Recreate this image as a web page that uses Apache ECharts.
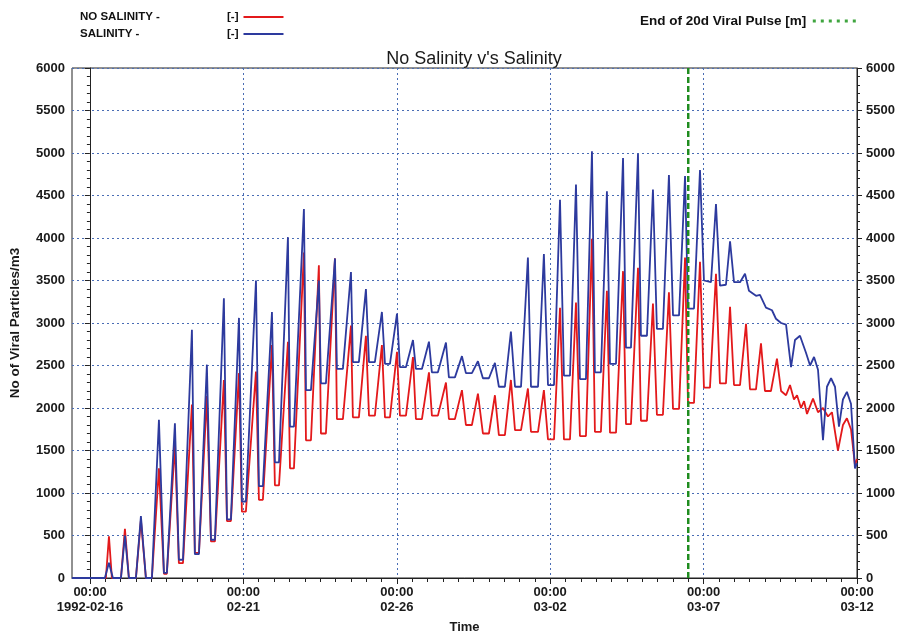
<!DOCTYPE html>
<html>
<head>
<meta charset="utf-8">
<script src="https://cdn.jsdelivr.net/npm/echarts@6/dist/echarts.min.js"></script>
<style>
  html, body { margin: 0; padding: 0; background: #ffffff; }
  #chart { width: 906px; height: 633px; }
</style>
</head>
<body>
<div id="chart"></div>
<script>
// Time is measured in hours from 1992-02-16 00:00.
const axisStartHour = -14;
const axisEndHour = 600;
const dateTickHours = [0, 120, 240, 360, 480, 600];
const dateTickLabels = ['1992-02-16', '02-21', '02-26', '03-02', '03-07', '03-12'];
const pulseEndHour = 468;

// Viral particle concentration without salinity effects [hour, particles/m3]
const noSalinity = [
  [-14,0],[12.5,0],[14.9,490],[17.2,0],[24.3,0],[27.4,580],[30.5,0],[36,0],[39.9,680],[43.8,0],
  [48.5,0],[54,1290],[57.9,50],[60.2,50],[66.5,1570],[69.6,175],[72.8,175],[79.8,2040],[82.1,295],[85.3,295],
  [91.5,2140],[94.7,430],[97.8,430],[104.8,2330],[107.2,670],[110.3,670],[116.6,2410],[118.9,780],[122,780],
  [129.9,2430],[132.2,920],[135.3,920],[142.4,2740],[144.7,1090],[147.9,1090],[154.9,2780],[156.5,1290],[159.6,1290],
  [167.4,3830],[169,1620],[172.9,1620],[179.1,3680],[180.7,1700],[184.6,1700],[191.7,3760],[193.2,1870],[197.9,1870],
  [204.2,2970],[205.7,1890],[210.4,1890],[215.9,2850],[218.3,1910],[222.9,1910],[228.4,2740],[230.8,1890],[234.7,1890],
  [240.2,2660],[242.5,1910],[247.2,1910],[252.7,2600],[255,1870],[259.7,1870],[265.2,2420],[267.5,1910],[272.2,1910],
  [278.5,2300],[280.8,1870],[285.5,1870],[291,2210],[294.1,1800],[298.8,1800],[303.5,2170],[307.4,1700],[312.1,1700],
  [316.8,2150],[319.9,1680],[324.6,1680],[329.3,2330],[332.5,1740],[337.2,1740],[342.6,2230],[345,1720],[350.5,1720],
  [355.1,2210],[358.3,1630],[363,1630],[367.7,3180],[370.8,1630],[375.5,1630],[380.2,3240],[383.3,1670],[388,1670],
  [392.7,3990],[395,1720],[399.7,1720],[404.4,3380],[406.8,1710],[411.5,1710],[417,3610],[419.3,1810],[423.2,1810],
  [428.7,3650],[431,1850],[435.7,1850],[440.4,3230],[443.5,1920],[448.2,1920],[452.9,3360],[456.1,1990],[460.8,1990],
  [465.5,3770],[467.8,2060],[472.5,2060],[477.2,3720],[480.3,2240],[485,2240],[489.7,3580],[492.8,2290],[497.5,2290],
  [500.7,3190],[503.8,2270],[508.5,2270],[513.2,2990],[516.3,2220],[521,2220],[524.9,2760],[528,2200],[532.7,2200],
  [537.4,2580],[540.6,2200],[544.5,2150],[547.6,2270],[550.7,2100],[553.1,2150],[556.2,2000],[558.6,2080],[560.9,1930],
  [565.6,2110],[569.5,1950],[573.4,2000],[577.3,1900],[580.4,1950],[585.1,1500],[589,1800],[592.1,1880],[595.3,1750],
  [598.4,1330],[600,1400]
];

// Viral particle concentration with salinity effects [hour, particles/m3]
const salinity = [
  [-14,0],[11.7,0],[14.9,180],[18,0],[24.3,0],[27.4,500],[30.5,0],[36,0],[39.9,730],[43.8,0],
  [48.5,0],[54,1860],[57.9,60],[60.2,60],[66.5,1820],[69.6,215],[72.8,215],[79.8,2920],[82.1,280],[85.3,280],
  [91.5,2510],[94.7,450],[97.8,450],[104.8,3290],[107.2,690],[110.3,690],[116.6,3060],[118.9,900],[122,900],
  [129.9,3500],[132.2,1080],[135.3,1080],[142.4,3130],[144.7,1360],[147.9,1360],[154.9,4010],[156.5,1780],[159.6,1780],
  [167.4,4340],[169,2210],[172.9,2210],[179.1,3500],[180.7,2290],[184.6,2290],[191.7,3760],[193.2,2460],[197.9,2460],
  [204.2,3600],[205.7,2540],[210.4,2540],[215.9,3400],[218.3,2540],[222.9,2540],[228.4,3130],[230.8,2520],[234.7,2520],
  [240.2,3110],[242.5,2480],[247.2,2480],[252.7,2800],[255,2460],[259.7,2460],[265.2,2780],[267.5,2420],[272.2,2420],
  [278.5,2770],[280.8,2360],[285.5,2360],[291,2610],[294.1,2410],[298.8,2410],[303.5,2550],[307.4,2350],[312.1,2350],
  [316.8,2530],[319.9,2250],[324.6,2250],[329.3,2900],[332.5,2250],[337.2,2250],[342.6,3770],[345,2250],[350.5,2250],
  [355.1,3810],[358.3,2270],[363,2270],[367.7,4450],[370.8,2380],[375.5,2380],[380.2,4630],[383.3,2340],[388,2340],
  [392.7,5020],[395,2420],[399.7,2420],[404.4,4550],[406.8,2520],[411.5,2520],[417,4940],[419.3,2710],[423.2,2710],
  [428.7,4990],[431,2850],[435.7,2850],[440.4,4570],[443.5,2930],[448.2,2930],[452.9,4740],[456.1,3090],[460.8,3090],
  [465.5,4730],[467.8,3170],[472.5,3170],[477.2,4800],[480.3,3500],[485.8,3480],[489.7,4400],[492.8,3440],[497.5,3450],
  [500.7,3960],[503.8,3480],[508.5,3480],[512.4,3580],[515.5,3380],[521,3320],[524.1,3330],[528.8,3180],[533.5,3150],
  [536.6,3050],[540.6,3000],[544.5,2980],[548.4,2480],[551.5,2800],[555.4,2850],[560.1,2650],[563.3,2500],[566.4,2600],
  [569.5,2450],[573.4,1620],[576.5,2250],[579.7,2350],[582.8,2250],[585.9,1780],[589,2100],[592.1,2190],[595.3,2050],
  [598.4,1290],[600,1350]
];

// Vertical marker at the end of the 20 day viral pulse
const pulseMarker = [[pulseEndHour, 0], [pulseEndHour, 6000]];

const FONT = '"Liberation Sans", Arial, sans-serif';
const RED = '#e3191b';
const BLUE = '#2d3a9e';
const GREEN = '#1f8c1f';
const GRID_DOT = { type: [2, 3], color: '#4a6db5', width: 1 };

const valueAxisBase = {
  min: 0, max: 6000, interval: 500,
  axisLine: { show: true, lineStyle: { color: '#222', width: 1 } },
  axisTick: { show: true, inside: false, length: 5, lineStyle: { color: '#222' } },
  minorTick: { show: true, splitNumber: 5, length: 3, lineStyle: { color: '#222' } },
  axisLabel: { color: '#1a1a1a', fontFamily: FONT, fontWeight: 'bold', fontSize: 13, formatter: v => String(v) }
};

const chart = echarts.init(document.getElementById('chart'), null, { renderer: 'canvas' });
chart.setOption({
  animation: false,
  backgroundColor: '#ffffff',
  title: {
    text: "No Salinity v's Salinity",
    left: 469, top: 45, textAlign: 'center',
    textStyle: { fontFamily: FONT, fontSize: 18, fontWeight: 'normal', color: '#1a1a1a' }
  },
  legend: [
    {
      data: ['NO SALINITY -', 'SALINITY -'],
      orient: 'vertical', left: 80, top: 11, align: 'right', padding: 0,
      itemWidth: 40, itemHeight: 2, itemGap: 5, icon: 'rect', selectedMode: false,
      formatter: name => '{n|' + name + '}{u|[-]}',
      textStyle: {
        fontFamily: FONT, fontWeight: 'bold', fontSize: 11.5, color: '#111',
        rich: {
          n: { width: 147, align: 'left', fontFamily: FONT, fontWeight: 'bold', fontSize: 11.5, color: '#111' },
          u: { align: 'left', fontFamily: FONT, fontWeight: 'bold', fontSize: 11.5, color: '#111' }
        }
      }
    },
    {
      data: ['End of 20d Viral Pulse [m]'],
      left: 640, top: 14, align: 'right', padding: 0,
      itemWidth: 46, itemHeight: 3, selectedMode: false,
      icon: 'path://M0 0h3v3h-3zM8 0h3v3h-3zM16 0h3v3h-3zM24 0h3v3h-3zM32 0h3v3h-3zM40 0h3v3h-3z',
      textStyle: { fontFamily: FONT, fontWeight: 'bold', fontSize: 13.5, color: '#111' }
    }
  ],
  grid: [
    { left: 72, right: 49, top: 68, bottom: 55, outerBoundsMode: 'none', containLabel: false,
      show: true, borderColor: '#222', borderWidth: 1, backgroundColor: 'transparent' },
    { left: 90, right: 49, top: 68, bottom: 55, outerBoundsMode: 'none', containLabel: false }
  ],
  xAxis: [
    {
      gridIndex: 0, type: 'value', min: axisStartHour, max: axisEndHour,
      axisLine: { show: true, lineStyle: { color: '#222', width: 1 } },
      axisTick: { show: false }, axisLabel: { show: false }, splitLine: { show: false },
      name: 'Time', nameLocation: 'middle', nameGap: 43,
      nameTextStyle: { fontFamily: FONT, fontWeight: 'bold', fontSize: 13, color: '#1a1a1a' }
    },
    {
      gridIndex: 1, type: 'value', min: dateTickHours[0], max: dateTickHours[dateTickHours.length - 1],
      interval: dateTickHours[1] - dateTickHours[0],
      axisLine: { show: true, lineStyle: { color: '#222', width: 1 } },
      axisTick: { show: true, inside: false, length: 6, lineStyle: { color: '#222' } },
      minorTick: { show: true, splitNumber: 10, length: 4, lineStyle: { color: '#222' } },
      axisLabel: {
        margin: 7, color: '#1a1a1a', fontFamily: FONT, fontWeight: 'bold', fontSize: 13, lineHeight: 15,
        showMinLabel: true, showMaxLabel: true,
        formatter: v => '00:00\n' + dateTickLabels[dateTickHours.indexOf(v)]
      },
      splitLine: { show: true, lineStyle: GRID_DOT }
    }
  ],
  yAxis: [
    Object.assign({}, valueAxisBase, {
      gridIndex: 0, type: 'value', position: 'left',
      axisLabel: Object.assign({}, valueAxisBase.axisLabel, { margin: 7 }),
      splitLine: { show: true, lineStyle: GRID_DOT },
      name: 'No of Viral Particles/m3', nameLocation: 'middle', nameRotate: 90, nameGap: 50,
      nameTextStyle: { fontFamily: FONT, fontWeight: 'bold', fontSize: 13.5, color: '#1a1a1a' }
    }),
    Object.assign({}, valueAxisBase, {
      gridIndex: 0, type: 'value', position: 'right',
      axisLabel: Object.assign({}, valueAxisBase.axisLabel, { margin: 9 }),
      splitLine: { show: false }
    }),
    { gridIndex: 1, type: 'value', min: 0, max: 6000, show: false }
  ],
  series: [
    {
      name: 'NO SALINITY -', type: 'line', xAxisIndex: 0, yAxisIndex: 0,
      data: noSalinity, symbol: 'none', color: RED,
      lineStyle: { color: RED, width: 1.8 }, z: 3
    },
    {
      name: 'SALINITY -', type: 'line', xAxisIndex: 0, yAxisIndex: 0,
      data: salinity, symbol: 'none', color: BLUE,
      lineStyle: { color: BLUE, width: 1.8 }, z: 4
    },
    {
      name: 'End of 20d Viral Pulse [m]', type: 'line', xAxisIndex: 0, yAxisIndex: 0,
      data: pulseMarker, symbol: 'none', color: '#3fa53f',
      lineStyle: { color: GREEN, width: 2.5, type: [6, 3] }, z: 5
    }
  ]
});
</script>
</body>
</html>
